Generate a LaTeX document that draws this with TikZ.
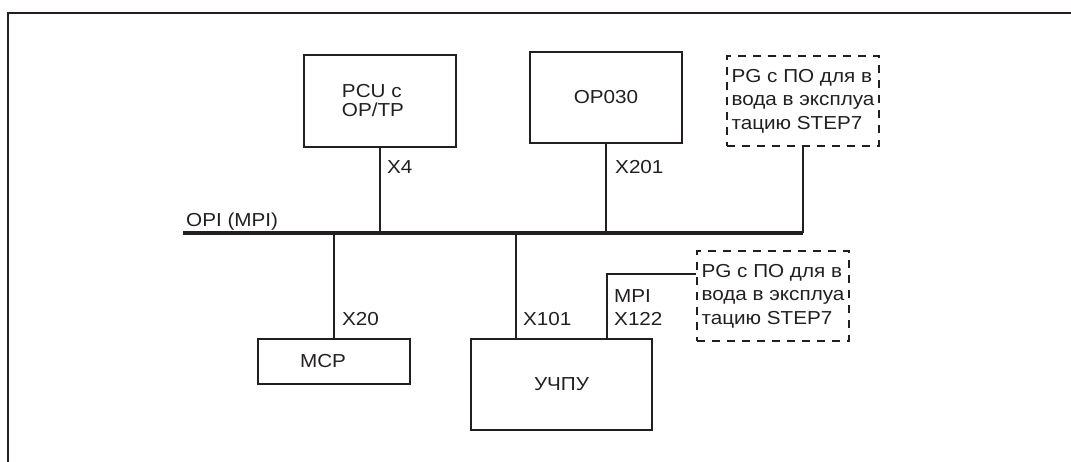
\documentclass[tikz,border=0pt]{standalone}
\usepackage{fontspec}
\setmainfont{Liberation Sans}[FakeStretch=1.1]
\definecolor{ink}{HTML}{231F20}
\begin{document}
\begin{tikzpicture}[x=1pt,y=-1pt,
  every node/.style={font=\fontsize{18.8}{23.5}\selectfont, text=ink},
  box/.style={draw=ink, line width=1.6pt, inner sep=0pt, align=center},
  pgbox/.style={draw=ink, dash pattern=on 8pt off 7pt, line width=1.6pt, inner sep=0pt,
                minimum width=152pt, minimum height=90pt, align=left},
  wire/.style={draw=ink, line width=1.7pt},
  busline/.style={draw=ink, line width=3.6pt},
  lbl/.style={inner sep=0pt, align=left}]
\useasboundingbox (0,0) rectangle (1071,462);
\draw[ink, line width=2pt] (8,462) -- (8,13) -- (1071,13);

% devices
\node[box, align=left, minimum width=152pt, minimum height=92pt,
      font=\fontsize{18.8}{19}\selectfont] (pcu) at (380,101) {PCU с\\OP/TP\hspace*{14pt}};
\node[box, minimum width=152pt, minimum height=91pt] (op) at (606,97.5) {OP030};
\node[pgbox] (pg1) at (803,101) {PG с ПО для в\\вода в эксплуа\\тацию STEP7};
\node[box, minimum width=152pt, minimum height=45pt] (mcp) at (334,361.5) {MCP\hspace*{22pt}};
\node[box, minimum width=181pt, minimum height=91pt] (cnc) at (561.5,384.5) {УЧПУ};
\node[pgbox] (pg2) at (773,296) {PG с ПО для в\\вода в эксплуа\\тацию STEP7};

% bus
\coordinate (busL) at (183,233);
\coordinate (busR) at (803,233);
\draw[busline] (busL) -- (busR);
\node[lbl, anchor=base west] (opi) at (186,227) {OPI (MPI)};

% drops
\draw[wire] (pcu.south) -- (pcu.south |- busL);
\draw[wire] (op.south) -- (op.south |- busL);
\draw[wire] (pg1.south) -- (busR);
\draw[wire] (mcp.north) -- (mcp.north |- busL);
\coordinate (t101) at (516,233);
\draw[wire] (t101) -- (t101 |- cnc.north);
\coordinate (t122) at (607,274);
\draw[wire] (pg2.west |- t122) -- (t122) -- (t122 |- cnc.north);

% port labels
\node[lbl, anchor=base west] (x4) at (387,174) {X4};
\node[lbl, anchor=base west] (x201) at (615,174) {X201};
\node[lbl, anchor=base west] (x20) at (342,326) {X20};
\node[lbl, anchor=base west] (x101) at (523,326) {X101};
\node[lbl, anchor=west] (x122) at (614,307.5) {MPI\\X122};
\end{tikzpicture}
\end{document}
